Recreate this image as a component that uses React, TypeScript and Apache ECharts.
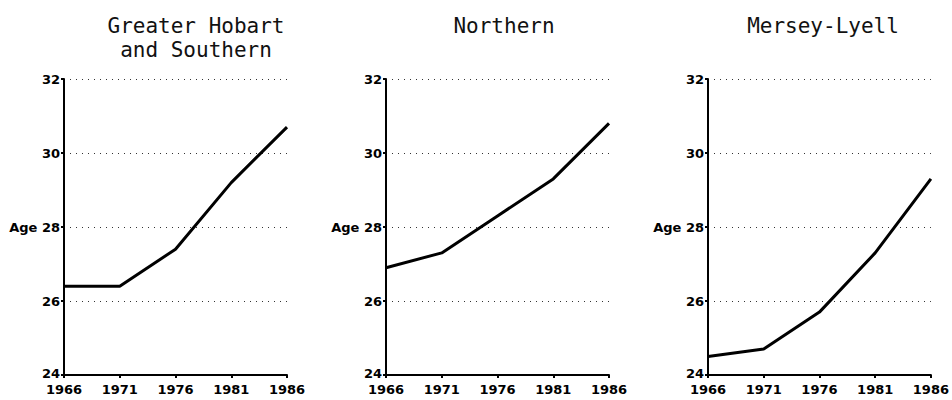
import React, { useEffect, useRef } from "react";
import * as echarts from "echarts";

const years = ["1966", "1971", "1976", "1981", "1986"];
const panelTitles = ["Greater Hobart\nand Southern", "Northern", "Mersey-Lyell"];
const hobartSouthern = [26.4, 26.4, 27.4, 29.2, 30.7];
const northern = [26.9, 27.3, 28.3, 29.3, 30.8];
const merseyLyell = [24.5, 24.7, 25.7, 27.3, 29.3];
const seriesData = [hobartSouthern, northern, merseyLyell];
const yMin = 24;
const yMax = 32;
const yStep = 2;
const yLabelWord = "Age";
const yLabelWordAt = 28;

const gridLefts = [64, 386, 708];
const titleCenters = [191, 499, 818];

export default function App() {
  const ref = useRef<HTMLDivElement>(null);
  useEffect(() => {
    if (!ref.current) return;
    const chart = echarts.init(ref.current, null, { renderer: "svg" });
    const labelFont = "'DejaVu Sans', sans-serif";
    chart.setOption({
      animation: false,
      backgroundColor: "#ffffff",
      title: panelTitles.map((t, i) => ({
        text: t,
        left: titleCenters[i],
        top: 9,
        textAlign: "center",
        textStyle: {
          fontFamily: "'DejaVu Sans Mono', monospace",
          fontSize: 21,
          fontWeight: "normal",
          color: "#111",
          lineHeight: 24,
        },
      })),
      grid: gridLefts.map((l) => ({ left: l, top: 79, width: 223, height: 296 })),
      xAxis: gridLefts.map((_, i) => ({
        type: "category",
        gridIndex: i,
        data: years,
        boundaryGap: false,
        axisLine: { lineStyle: { color: "#000", width: 2 } },
        axisTick: { show: true, length: 3, lineStyle: { color: "#000", width: 2 } },
        axisLabel: {
          margin: 8,
          color: "#000",
          fontFamily: labelFont,
          fontWeight: "bold",
          fontSize: 13,
          lineHeight: 13,
          showMinLabel: true,
          showMaxLabel: true,
        },
        splitLine: { show: false },
      })),
      yAxis: gridLefts.map((_, i) => ({
        type: "value",
        gridIndex: i,
        min: yMin,
        max: yMax,
        interval: yStep,
        axisLine: { show: true, lineStyle: { color: "#000", width: 2 } },
        axisTick: { show: true, length: 3, lineStyle: { color: "#000", width: 2 } },
        axisLabel: {
          margin: 4,
          color: "#000",
          fontFamily: labelFont,
          fontWeight: "bold",
          fontSize: 13,
          lineHeight: 13,
          formatter: (v: number) =>
            v === yMin
              ? `{low|${v}}`
              : v === yLabelWordAt
              ? `${yLabelWord} ${v}`
              : String(v),
          rich: {
            low: {
              fontFamily: labelFont,
              fontWeight: "bold",
              fontSize: 13,
              lineHeight: 13,
              color: "#000",
              padding: [0, 0, 4, 0],
            },
          },
        },
        splitLine: {
          show: true,
          lineStyle: { color: "#333", width: 1, type: [1, 5] },
        },
      })),
      series: seriesData.map((d, i) => ({
        type: "line",
        xAxisIndex: i,
        yAxisIndex: i,
        data: d,
        symbol: "none",
        lineStyle: { color: "#000", width: 3 },
      })),
    });
    return () => chart.dispose();
  }, []);
  return (
    <div
      ref={ref}
      style={{ position: "fixed", left: 0, top: 0, width: 952, height: 400, background: "#fff" }}
    />
  );
}
